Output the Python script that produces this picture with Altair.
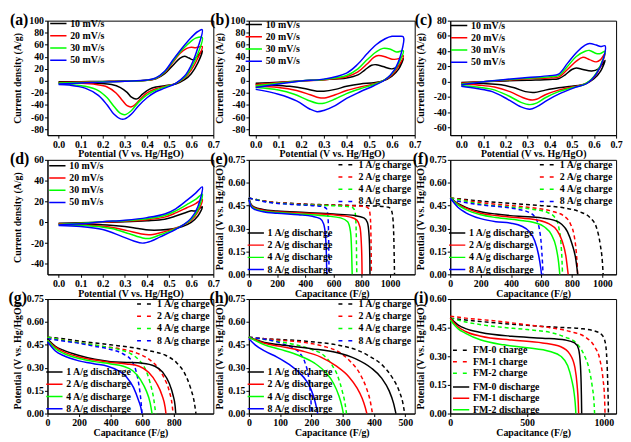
import altair as alt
import pandas as pd

FONT = "Liberation Serif"
COL4 = ["#000000", "#ff0000", "#00ff00", "#0000ff"]
COL3 = ["#000000", "#ff0000", "#00ff00"]

CV_LABELS = ["10 mV/s", "20 mV/s", "30 mV/s", "50 mV/s"]
CHARGE_LABELS = ["1 A/g charge", "2 A/g charge", "4 A/g charge", "8 A/g charge"]
DISCHARGE_LABELS = ["1 A/g discharge", "2 A/g discharge", "4 A/g discharge", "8 A/g discharge"]
FM_CHARGE = ["FM-0 charge", "FM-1 charge", "FM-2 charge"]
FM_DISCHARGE = ["FM-0 discharge", "FM-1 discharge", "FM-2 discharge"]

CV_X_TICKS = [0.0, 0.1, 0.2, 0.3, 0.4, 0.5, 0.6, 0.7]
Y_TICKS_AB = [-80, -60, -40, -20, 0, 20, 40, 60, 80, 100]
Y_TICKS_C = [-60, -40, -20, 0, 20, 40, 60, 80]
Y_TICKS_D = [-40, -20, 0, 20, 40, 60]
GCD_Y_TICKS = [0.0, 0.15, 0.30, 0.45, 0.60, 0.75]
GCD_Y_TICKS_I = [0.0, 0.15, 0.30, 0.45, 0.60]
X_TICKS_EF = [0, 200, 400, 600, 800, 1000]
X_TICKS_G = [0, 200, 400, 600, 800]
X_TICKS_H = [0, 100, 200, 300, 400, 500]
X_TICKS_I = [0, 500, 1000]

# ---------------- CV loops: (potential V, current A/g), anodic then cathodic ----------------
A_10 = [(0.00,-1.5),(0.10,-1.2),(0.20,-0.8),(0.30,-0.3),(0.40,1.0),(0.44,3.5),(0.48,12),(0.52,27),(0.55,38),(0.57,41),(0.59,38),(0.61,35),(0.63,42),(0.65,50),
        (0.63,30),(0.60,12),(0.57,2),(0.53,-5),(0.48,-8),(0.44,-10),(0.41,-14),(0.38,-22),(0.36,-29),(0.35,-30),(0.33,-27),(0.31,-19),(0.28,-11),(0.24,-6),(0.18,-4),(0.10,-3),(0.00,-3)]
A_20 = [(0.00,-2.5),(0.10,-1.8),(0.20,-1.2),(0.30,-0.5),(0.40,1.0),(0.44,4),(0.48,14),(0.52,32),(0.55,46),(0.58,54),(0.60,56),(0.62,55),(0.65,57),
        (0.63,38),(0.60,18),(0.57,5),(0.53,-4),(0.48,-9),(0.44,-13),(0.40,-20),(0.37,-30),(0.35,-38),(0.33,-43),(0.31,-41),(0.29,-33),(0.26,-20),(0.22,-10),(0.17,-6),(0.10,-4),(0.00,-3.5)]
A_30 = [(0.00,-3.5),(0.10,-2.5),(0.20,-1.5),(0.30,-0.5),(0.40,1.2),(0.44,4.5),(0.48,15),(0.52,34),(0.56,52),(0.60,66),(0.62,71),(0.65,72),
        (0.63,45),(0.60,22),(0.57,6),(0.53,-4),(0.48,-10),(0.44,-15),(0.40,-23),(0.36,-36),(0.33,-49),(0.30,-56),(0.28,-54),(0.25,-42),(0.22,-28),(0.18,-16),(0.12,-9),(0.05,-6),(0.00,-5)]
A_50 = [(0.00,-5),(0.10,-3.5),(0.20,-2),(0.30,-0.5),(0.40,1.5),(0.44,5),(0.48,16),(0.52,36),(0.56,55),(0.60,72),(0.63,82),(0.65,85),
        (0.63,55),(0.60,26),(0.57,8),(0.53,-4),(0.48,-12),(0.44,-18),(0.40,-28),(0.36,-42),(0.33,-55),(0.30,-63),(0.28,-63),(0.25,-55),(0.22,-40),(0.18,-24),(0.12,-12),(0.05,-7),(0.00,-6)]

B_10 = [(0.00,-4),(0.10,-2),(0.20,0),(0.30,2),(0.40,5),(0.45,10),(0.48,18),(0.51,26),(0.53,27),(0.56,24),(0.60,20),(0.63,25),(0.65,37),
        (0.63,20),(0.60,8),(0.56,0),(0.52,-3),(0.46,-5),(0.40,-9),(0.35,-14),(0.30,-17),(0.27,-17),(0.22,-13),(0.15,-9),(0.08,-7),(0.00,-6)]
B_20 = [(0.00,-6),(0.10,-3),(0.20,0),(0.30,2),(0.40,7),(0.45,15),(0.49,28),(0.52,39),(0.54,42),(0.57,40),(0.60,36),(0.63,37),(0.65,42),
        (0.63,25),(0.60,10),(0.56,0),(0.52,-5),(0.46,-10),(0.40,-16),(0.35,-23),(0.31,-28),(0.28,-28),(0.24,-23),(0.18,-16),(0.10,-11),(0.00,-9)]
B_30 = [(0.00,-8),(0.10,-4),(0.20,0),(0.30,2.5),(0.40,9),(0.45,20),(0.49,35),(0.53,48),(0.56,54),(0.59,53),(0.62,48),(0.65,50),
        (0.63,30),(0.60,12),(0.56,0),(0.52,-6),(0.46,-13),(0.40,-21),(0.35,-30),(0.30,-37),(0.27,-37),(0.23,-32),(0.17,-22),(0.10,-15),(0.00,-11)]
B_50 = [(0.00,-11),(0.10,-5),(0.20,0),(0.30,3),(0.40,13),(0.45,28),(0.49,45),(0.53,60),(0.57,70),(0.60,74),(0.63,74),(0.65,73),
        (0.64,45),(0.61,18),(0.57,2),(0.52,-8),(0.46,-18),(0.40,-29),(0.35,-41),(0.30,-49),(0.27,-51),(0.24,-47),(0.18,-33),(0.10,-22),(0.00,-14)]

C_10 = [(0.00,-1),(0.10,0),(0.20,1),(0.30,2),(0.40,3),(0.44,4),(0.47,9),(0.50,16),(0.52,18),(0.55,16),(0.59,14),(0.62,17),(0.65,28),
        (0.63,14),(0.60,4),(0.56,-3),(0.50,-6),(0.44,-8),(0.38,-11),(0.33,-14),(0.29,-13),(0.24,-8),(0.18,-4),(0.10,-2.5),(0.00,-2)]
C_20 = [(0.00,-2),(0.10,0),(0.20,2),(0.30,4),(0.40,5),(0.44,6),(0.48,16),(0.52,27),(0.55,32),(0.58,29),(0.61,26),(0.63,29),(0.65,37),
        (0.63,20),(0.60,6),(0.56,-3),(0.50,-7),(0.44,-11),(0.38,-17),(0.34,-23),(0.32,-24),(0.28,-21),(0.22,-13),(0.15,-7),(0.08,-4.5),(0.00,-3)]
C_30 = [(0.00,-3),(0.10,0),(0.20,2.5),(0.30,4.5),(0.40,6.5),(0.44,8),(0.48,20),(0.52,33),(0.56,40),(0.58,41),(0.61,37),(0.63,37),(0.65,40),
        (0.63,22),(0.60,7),(0.56,-3),(0.50,-8),(0.44,-13),(0.38,-21),(0.34,-28),(0.31,-30),(0.27,-27),(0.21,-18),(0.14,-10),(0.07,-7),(0.00,-5)]
C_50 = [(0.00,-4),(0.10,0),(0.20,3),(0.30,5.5),(0.40,8),(0.44,10),(0.48,24),(0.52,38),(0.56,48),(0.58,50),(0.61,48),(0.63,46),(0.65,47),
        (0.64,28),(0.61,10),(0.57,-2),(0.51,-8),(0.45,-15),(0.39,-24),(0.34,-33),(0.31,-36),(0.27,-33),(0.21,-23),(0.14,-13),(0.07,-9),(0.00,-6)]

D_10 = [(0.00,-1),(0.10,-0.5),(0.20,0),(0.30,0.5),(0.40,1.5),(0.48,3),(0.53,6),(0.57,9),(0.60,11),(0.62,11),(0.65,15),
        (0.63,6),(0.60,0),(0.56,-4),(0.51,-6.5),(0.46,-7.5),(0.41,-7.5),(0.36,-6),(0.30,-4),(0.22,-2.5),(0.12,-2),(0.00,-1.5)]
D_20 = [(0.00,-1.5),(0.10,-1),(0.20,0),(0.30,1),(0.40,2.5),(0.48,5),(0.53,9),(0.58,14),(0.62,18),(0.65,22),
        (0.63,10),(0.60,2),(0.56,-3),(0.51,-7),(0.46,-10),(0.41,-12),(0.37,-11),(0.31,-8),(0.23,-4.5),(0.12,-2.5),(0.00,-2)]
D_30 = [(0.00,-2),(0.10,-1),(0.20,0.5),(0.30,1.5),(0.40,3.5),(0.48,6.5),(0.53,11),(0.58,17),(0.62,22),(0.65,27),
        (0.63,12),(0.60,3),(0.56,-3),(0.51,-8),(0.46,-12),(0.41,-15.5),(0.38,-15),(0.32,-11),(0.24,-6),(0.12,-3),(0.00,-2.5)]
D_50 = [(0.00,-2.5),(0.10,-1.5),(0.20,0.5),(0.30,2),(0.40,4.5),(0.48,8),(0.53,13),(0.58,21),(0.62,28),(0.65,34),
        (0.63,15),(0.60,4),(0.56,-3),(0.51,-9),(0.46,-14),(0.42,-18),(0.38,-20),(0.34,-18),(0.28,-13),(0.20,-7),(0.10,-4),(0.00,-3)]

# ---------------- GCD curves: (capacitance F/g, potential V) ----------------
E_C1 = [(0,0.50),(50,0.49),(150,0.475),(300,0.465),(500,0.457),(700,0.452),(900,0.447),(990,0.44),(1010,0.42),(1022,0.35),(1028,0.2),(1031,0.05),(1032,0)]
E_C2 = [(0,0.50),(50,0.49),(150,0.475),(300,0.463),(500,0.455),(700,0.45),(820,0.445),(850,0.43),(860,0.38),(865,0.25),(867,0.1),(868,0)]
E_C4 = [(0,0.50),(50,0.49),(150,0.472),(300,0.46),(500,0.452),(650,0.447),(730,0.44),(750,0.42),(758,0.35),(762,0.2),(764,0.05),(765,0)]
E_C8 = [(0,0.50),(50,0.488),(150,0.47),(300,0.458),(450,0.45),(520,0.445),(550,0.43),(560,0.38),(565,0.25),(567,0.1),(568,0)]
E_D1 = [(0,0.50),(15,0.46),(40,0.44),(100,0.425),(200,0.415),(400,0.405),(600,0.395),(750,0.385),(815,0.37),(840,0.34),(852,0.25),(857,0.1),(858,0)]
E_D2 = [(0,0.49),(15,0.455),(40,0.435),(100,0.42),(200,0.41),(400,0.4),(600,0.39),(720,0.375),(765,0.355),(787,0.31),(797,0.2),(801,0.08),(802,0)]
E_D4 = [(0,0.49),(15,0.45),(40,0.43),(100,0.415),(200,0.405),(400,0.393),(550,0.382),(650,0.37),(700,0.345),(720,0.28),(728,0.15),(732,0)]
E_D8 = [(0,0.49),(15,0.445),(40,0.425),(100,0.41),(200,0.4),(350,0.39),(450,0.38),(505,0.365),(530,0.33),(543,0.25),(550,0.1),(552,0)]

F_C1 = [(0,0.50),(100,0.49),(200,0.48),(400,0.465),(600,0.45),(750,0.435),(850,0.41),(920,0.37),(960,0.31),(985,0.2),(1000,0.08),(1005,0)]
F_C2 = [(0,0.50),(100,0.485),(200,0.47),(400,0.45),(550,0.435),(680,0.41),(750,0.38),(790,0.33),(815,0.25),(828,0.15),(835,0.05),(837,0)]
F_C4 = [(0,0.50),(100,0.48),(200,0.46),(400,0.44),(550,0.425),(640,0.405),(690,0.37),(715,0.3),(728,0.2),(735,0.08),(738,0)]
F_C8 = [(0,0.49),(100,0.47),(200,0.455),(350,0.44),(450,0.425),(520,0.405),(560,0.37),(585,0.3),(598,0.2),(606,0.08),(610,0)]
F_D1 = [(0,0.50),(50,0.465),(100,0.44),(200,0.41),(300,0.395),(450,0.38),(600,0.37),(680,0.355),(730,0.33),(770,0.28),(800,0.2),(825,0.1),(838,0)]
F_D2 = [(0,0.50),(50,0.46),(100,0.435),(200,0.4),(300,0.385),(450,0.37),(580,0.355),(650,0.33),(700,0.29),(735,0.22),(760,0.12),(775,0)]
F_D4 = [(0,0.50),(50,0.455),(100,0.425),(200,0.39),(300,0.372),(450,0.355),(550,0.34),(620,0.31),(665,0.26),(695,0.18),(712,0.08),(720,0)]
F_D8 = [(0,0.50),(50,0.44),(100,0.405),(200,0.365),(300,0.345),(400,0.335),(470,0.315),(520,0.28),(555,0.22),(580,0.13),(595,0.04),(600,0)]

G_C1 = [(0,0.50),(100,0.49),(200,0.475),(400,0.45),(550,0.43),(650,0.41),(750,0.38),(820,0.33),(870,0.26),(905,0.17),(930,0.07),(940,0)]
G_C2 = [(0,0.50),(100,0.48),(200,0.465),(350,0.44),(480,0.42),(580,0.39),(650,0.35),(700,0.3),(740,0.23),(770,0.15),(790,0.05),(795,0)]
G_C4 = [(0,0.50),(100,0.48),(200,0.465),(350,0.44),(450,0.42),(530,0.39),(580,0.35),(620,0.29),(650,0.2),(672,0.1),(685,0)]
G_C8 = [(0,0.49),(100,0.475),(200,0.46),(300,0.44),(400,0.42),(480,0.39),(530,0.35),(560,0.28),(580,0.18),(592,0.08),(598,0)]
G_D1 = [(0,0.49),(50,0.44),(100,0.415),(200,0.38),(300,0.355),(400,0.34),(500,0.335),(600,0.33),(680,0.31),(730,0.27),(770,0.2),(795,0.12),(808,0.05),(812,0)]
G_D2 = [(0,0.48),(50,0.435),(100,0.405),(200,0.37),(300,0.35),(400,0.335),(500,0.325),(580,0.31),(640,0.27),(690,0.2),(725,0.12),(745,0.04),(750,0)]
G_D4 = [(0,0.48),(50,0.425),(100,0.395),(200,0.36),(300,0.34),(400,0.325),(480,0.31),(540,0.28),(590,0.22),(625,0.15),(650,0.07),(662,0)]
G_D8 = [(0,0.47),(50,0.41),(100,0.38),(200,0.345),(300,0.325),(380,0.31),(450,0.28),(500,0.24),(545,0.17),(575,0.09),(595,0.02),(598,0)]

H_C1 = [(0,0.50),(50,0.49),(100,0.485),(200,0.47),(280,0.45),(340,0.42),(390,0.37),(430,0.31),(460,0.23),(480,0.15),(492,0.07),(498,0)]
H_C2 = [(0,0.50),(50,0.49),(100,0.48),(180,0.465),(240,0.44),(290,0.4),(325,0.34),(355,0.26),(375,0.17),(388,0.08),(395,0)]
H_C4 = [(0,0.50),(50,0.485),(100,0.47),(150,0.45),(200,0.42),(240,0.38),(265,0.32),(285,0.24),(298,0.15),(307,0.07),(312,0)]
H_C8 = [(0,0.50),(40,0.49),(80,0.475),(110,0.455),(140,0.43),(165,0.39),(180,0.33),(190,0.25),(196,0.15),(199,0.06),(200,0)]
H_D1 = [(0,0.50),(50,0.465),(100,0.45),(200,0.425),(280,0.4),(340,0.36),(390,0.3),(425,0.23),(448,0.15),(462,0.07),(470,0)]
H_D2 = [(0,0.50),(50,0.46),(100,0.44),(170,0.41),(230,0.37),(280,0.31),(320,0.24),(345,0.17),(362,0.1),(372,0.04),(377,0)]
H_D4 = [(0,0.50),(50,0.45),(100,0.42),(160,0.38),(210,0.33),(245,0.27),(270,0.2),(287,0.12),(297,0.05),(302,0)]
H_D8 = [(0,0.49),(20,0.45),(50,0.41),(90,0.37),(130,0.32),(160,0.27),(185,0.21),(200,0.15),(210,0.09),(216,0.04),(220,0)]

I_C0 = [(0,0.50),(100,0.49),(300,0.475),(500,0.462),(700,0.452),(850,0.445),(950,0.43),(990,0.41),(1010,0.37),(1020,0.28),(1026,0.15),(1029,0.05),(1030,0)]
I_C1 = [(0,0.51),(100,0.5),(300,0.485),(500,0.465),(650,0.45),(780,0.43),(880,0.4),(940,0.35),(975,0.28),(995,0.18),(1005,0.08),(1008,0)]
I_C2 = [(0,0.50),(100,0.48),(300,0.455),(500,0.44),(650,0.425),(750,0.4),(820,0.37),(870,0.31),(905,0.23),(925,0.14),(937,0.05),(940,0)]
I_D0 = [(0,0.50),(50,0.465),(100,0.445),(200,0.425),(400,0.405),(600,0.395),(750,0.385),(810,0.37),(835,0.34),(848,0.25),(854,0.1),(856,0)]
I_D1 = [(0,0.50),(50,0.455),(100,0.43),(200,0.405),(400,0.385),(600,0.37),(720,0.35),(780,0.31),(812,0.24),(826,0.15),(834,0.05),(836,0)]
I_D2 = [(0,0.49),(50,0.445),(100,0.42),(200,0.385),(350,0.36),(500,0.345),(650,0.325),(720,0.3),(765,0.25),(790,0.18),(808,0.1),(816,0.03),(818,0)]

W, H = 168, 116


def frame(curves, labels):
    rows = []
    for pts, lab in zip(curves, labels):
        for k, (a, b) in enumerate(pts):
            rows.append({"x": a, "y": b, "k": k, "s": lab})
    return pd.DataFrame(rows)


def leg(x, y, dash=None, rowpad=2.4):
    kw = dict(orient="none", legendX=x, legendY=y, title=None, symbolType="stroke",
              symbolSize=272, symbolStrokeWidth=1.5, labelFont=FONT, labelFontSize=10,
              labelFontWeight="bold", labelColor="black", clipHeight=10, rowPadding=rowpad,
              labelOffset=3, padding=0, symbolOffset=0)
    if dash:
        kw["symbolDash"] = dash
    return alt.Legend(**kw)


def letter_layer(letter, dx):
    return alt.Chart(pd.DataFrame({"t": [letter]})).mark_text(
        font=FONT, fontSize=16, fontWeight="bold", align="left", baseline="middle", color="black"
    ).encode(text="t:N", x=alt.value(dx), y=alt.value(-1))


NEG_INT = "datum.value < 0 ? '-' + format(-datum.value, 'd') : format(datum.value, 'd')"


def cv_panel(curves, xdom, ydom, yticks, letter, dx, lx, ly):
    df = frame(curves, CV_LABELS)
    x = alt.X("x:Q", scale=alt.Scale(domain=xdom, nice=False, zero=False),
              axis=alt.Axis(title="Potential (V vs. Hg/HgO)", values=CV_X_TICKS, format=".1f",
                            titleY=19, titleBaseline="middle"))
    y = alt.Y("y:Q", scale=alt.Scale(domain=ydom, nice=False, zero=False),
              axis=alt.Axis(title="Current density (A/g)", values=yticks, labelExpr=NEG_INT,
                            titleX=-30, titleBaseline="middle"))
    lines = alt.Chart(df).mark_line(strokeWidth=1.5, interpolate="catmull-rom").encode(
        x=x, y=y,
        color=alt.Color("s:N", scale=alt.Scale(domain=CV_LABELS, range=COL4), legend=leg(lx, ly)),
        order="k:Q",
    )
    return alt.layer(lines, letter_layer(letter, dx)).properties(width=W, height=H)


def gcd_panel(charges, dis, clabels, dlabels, colors, xdom, xticks, ydom, yticks,
              letter, dx, cpos, dpos, rowpad=2.4):
    cdf = frame(charges, clabels)
    ddf = frame(dis, dlabels)
    x = alt.X("x:Q", scale=alt.Scale(domain=xdom, nice=False, zero=False),
              axis=alt.Axis(title="Capacitance (F/g)", values=xticks, format="d",
                            titleY=19, titleBaseline="middle"))
    y = alt.Y("y:Q", scale=alt.Scale(domain=ydom, nice=False, zero=False),
              axis=alt.Axis(title="Potential (V vs. Hg/HgO)", values=yticks, format=".2f",
                            titleX=-30, titleBaseline="middle"))
    ch = alt.Chart(cdf).mark_line(strokeWidth=1.5, strokeDash=[4, 3], interpolate="monotone").encode(
        x=x, y=y,
        color=alt.Color("s:N", scale=alt.Scale(domain=clabels, range=colors),
                        legend=leg(cpos[0], cpos[1], dash=[4, 6], rowpad=rowpad)),
        order="k:Q",
    )
    dc = alt.Chart(ddf).mark_line(strokeWidth=1.5, interpolate="monotone").encode(
        x=x, y=y,
        color=alt.Color("s:N", scale=alt.Scale(domain=dlabels, range=colors),
                        legend=leg(dpos[0], dpos[1], rowpad=rowpad)),
        order="k:Q",
    )
    return alt.layer(ch, dc, letter_layer(letter, dx)).resolve_scale(color="independent").properties(width=W, height=H)


pa = cv_panel([A_10, A_20, A_30, A_50], [-0.05, 0.7], [-90, 100], Y_TICKS_AB, "(a)", -38, 2, -2)
pb = cv_panel([B_10, B_20, B_30, B_50], [-0.03, 0.7], [-90, 100], Y_TICKS_AB, "(b)", -39, -4, -1)
pc = cv_panel([C_10, C_20, C_30, C_50], [-0.05, 0.7], [-70, 80], Y_TICKS_C, "(c)", -36, 0, 0)
pd_ = cv_panel([D_10, D_20, D_30, D_50], [-0.05, 0.7], [-50, 60], Y_TICKS_D, "(d)", -38, 1, 1)

CPOS = (W - 78, 0)
DPOS = (-2, H - 47)
pe = gcd_panel([E_C1, E_C2, E_C4, E_C8], [E_D1, E_D2, E_D4, E_D8], CHARGE_LABELS, DISCHARGE_LABELS, COL4,
               [0, 1175], X_TICKS_EF, [0, 0.75], GCD_Y_TICKS, "(e)", -39, CPOS, DPOS)
pf = gcd_panel([F_C1, F_C2, F_C4, F_C8], [F_D1, F_D2, F_D4, F_D8], CHARGE_LABELS, DISCHARGE_LABELS, COL4,
               [0, 1090], X_TICKS_EF, [0, 0.75], GCD_Y_TICKS, "(f)", -38, CPOS, DPOS)
pg = gcd_panel([G_C1, G_C2, G_C4, G_C8], [G_D1, G_D2, G_D4, G_D8], CHARGE_LABELS, DISCHARGE_LABELS, COL4,
               [0, 1050], X_TICKS_G, [0, 0.75], GCD_Y_TICKS, "(g)", -39.5, CPOS, DPOS)
ph = gcd_panel([H_C1, H_C2, H_C4, H_C8], [H_D1, H_D2, H_D4, H_D8], CHARGE_LABELS, DISCHARGE_LABELS, COL4,
               [0, 530], X_TICKS_H, [0, 0.75], GCD_Y_TICKS, "(h)", -40, CPOS, DPOS)
pi = gcd_panel([I_C0, I_C1, I_C2], [I_D0, I_D1, I_D2], FM_CHARGE, FM_DISCHARGE, COL3,
               [0, 1080], X_TICKS_I, [0, 0.6], GCD_Y_TICKS_I, "(i)", -37, (2, 47), (2, 84), rowpad=1.6)

chart = alt.concat(
    pa, pb, pc, pd_, pe, pf, pg, ph, pi,
    columns=3, spacing={"row": 25, "column": 36}, bounds="flush",
).resolve_scale(color="independent").properties(padding=0).configure_axis(
    labelFont=FONT, labelFontSize=10, labelFontWeight="bold", labelColor="black",
    titleFont=FONT, titleFontSize=10, titleFontWeight="bold", titleColor="black",
    tickColor="black", domainColor="black", tickSize=3, labelPadding=1, grid=False,
    labelFlush=False, labelOverlap=False, domainWidth=1, tickWidth=1,
).configure_view(stroke="black", strokeWidth=1)

chart.save("out.html", embed_options={"renderer": "svg", "actions": False})
